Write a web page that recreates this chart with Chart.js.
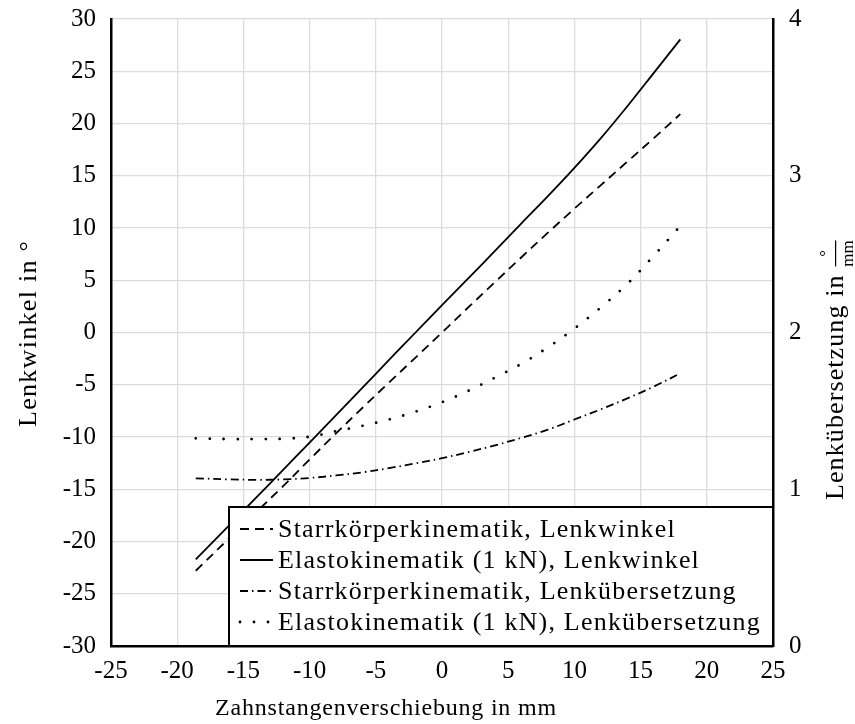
<!DOCTYPE html>
<html>
<head>
<meta charset="utf-8">
<script src="https://cdn.jsdelivr.net/npm/chart.js@4.4.1/dist/chart.umd.min.js"></script>
<style>
  html, body { margin: 0; padding: 0; background: #fff; }
</style>
</head>
<body>
<canvas id="lenkung" width="855" height="724"></canvas>
<script>
// Zahnstangenverschiebung in mm
const verschiebung = [-18.6, -16, -14, -12, -10, -8, -6, -4, -2, 0, 2, 4, 6, 8, 10, 12, 14, 16, 18];
// Lenkwinkel in Grad (linke Achse)
const winkelStarr  = [-22.8, -19.6, -17.15, -14.7, -12.15, -9.65, -7.2, -4.78, -2.4, 0, 2.42, 4.82, 7.2, 9.55, 11.85, 14.1, 16.35, 18.6, 20.9];
const winkelElasto = [-21.7, -18.35, -15.75, -13.15, -10.53, -7.9, -5.27, -2.63, 0.0, 2.62, 5.2, 7.8, 10.45, 13.05, 15.75, 18.6, 21.65, 24.85, 28.05];
// Lenkuebersetzung in Grad/mm (rechte Achse)
const uebStarr  = [1.07, 1.063, 1.06, 1.063, 1.072, 1.088, 1.108, 1.135, 1.165, 1.198, 1.237, 1.28, 1.328, 1.38, 1.445, 1.51, 1.58, 1.655, 1.74];
const uebElasto = [1.325, 1.32, 1.32, 1.322, 1.335, 1.37, 1.405, 1.445, 1.495, 1.555, 1.628, 1.712, 1.80, 1.905, 2.025, 2.16, 2.31, 2.49, 2.68];

const namen = [
  'Starrkörperkinematik, Lenkwinkel',
  'Elastokinematik (1 kN), Lenkwinkel',
  'Starrkörperkinematik, Lenkübersetzung',
  'Elastokinematik (1 kN), Lenkübersetzung'
];
const titelX = 'Zahnstangenverschiebung in mm';
const titelY = 'Lenkwinkel in °';
const titelY2 = 'Lenkübersetzung in';

const schrift = 'Liberation Serif';

function punkte(werte) {
  return verschiebung.map((x, i) => ({ x: x, y: werte[i] }));
}

// Legende im Diagramm unten rechts + Achsentitel
const legendeBox = {
  id: 'legendeBox',
  afterDatasetsDraw(chart) {
    const ctx = chart.ctx, a = chart.chartArea;
    const x0 = a.left + 118, y0 = a.bottom - 139;
    ctx.save();
    ctx.fillStyle = '#fff';
    ctx.fillRect(x0, y0, a.right - x0, a.bottom - y0);
    ctx.lineWidth = 2;
    ctx.strokeStyle = '#000';
    ctx.strokeRect(x0, y0, a.right - x0, a.bottom - y0);
    chart.data.datasets.forEach((ds, i) => {
      const y = y0 + 22 + i * 31;
      ctx.beginPath();
      ctx.setLineDash(ds.borderDash || []);
      ctx.lineCap = ds.borderCapStyle || 'butt';
      ctx.lineWidth = ds.borderWidth;
      ctx.moveTo(x0 + 11, y);
      ctx.lineTo(x0 + 44, y);
      ctx.stroke();
      ctx.setLineDash([]);
      ctx.fillStyle = '#000';
      ctx.font = '26px "' + schrift + '"';
      ctx.textBaseline = 'middle';
      ctx.letterSpacing = '1.2px';
      ctx.fillText(ds.label, x0 + 49, y + 1);
      ctx.letterSpacing = '0px';
    });
    ctx.restore();
  },
  afterDraw(chart) {
    const ctx = chart.ctx;
    ctx.save();
    ctx.fillStyle = '#000';
    ctx.textBaseline = 'alphabetic';

    // x-Titel
    ctx.font = '24px "' + schrift + '"';
    ctx.letterSpacing = '0.8px';
    ctx.textAlign = 'center';
    ctx.fillText(titelX, 386, 715);

    // linker Titel
    ctx.save();
    ctx.translate(36, 427);
    ctx.rotate(-Math.PI / 2);
    ctx.textAlign = 'left';
    ctx.font = '26px "' + schrift + '"';
    ctx.letterSpacing = '1.3px';
    ctx.fillText(titelY, 0, 0);
    ctx.restore();

    // rechter Titel mit Bruch
    ctx.translate(843, 500);
    ctx.rotate(-Math.PI / 2);
    ctx.textAlign = 'left';
    ctx.font = '26px "' + schrift + '"';
    ctx.letterSpacing = '1.1px';
    ctx.fillText(titelY2, 0, 0);
    const w = ctx.measureText(titelY2).width + 8;
    ctx.letterSpacing = '0px';
    ctx.font = '17px "' + schrift + '"';
    ctx.textAlign = 'center';
    ctx.fillText('°', w + 13, -12);
    ctx.fillText('mm', w + 13, 10);
    ctx.fillRect(w, -8, 26, 1.2);
    ctx.restore();
  }
};

new Chart(document.getElementById('lenkung').getContext('2d'), {
  type: 'line',
  data: {
    datasets: [
      { label: namen[0], data: punkte(winkelStarr), yAxisID: 'y',
        borderColor: '#000', borderWidth: 1.8, borderDash: [9, 6] },
      { label: namen[1], data: punkte(winkelElasto), yAxisID: 'y',
        borderColor: '#000', borderWidth: 1.8 },
      { label: namen[2], data: punkte(uebStarr), yAxisID: 'y2',
        borderColor: '#000', borderWidth: 1.8, borderDash: [8, 4, 1.5, 4] },
      { label: namen[3], data: punkte(uebElasto), yAxisID: 'y2',
        borderColor: '#000', borderWidth: 2.8, borderDash: [0, 14], borderCapStyle: 'round' }
    ]
  },
  options: {
    responsive: false,
    animation: false,
    layout: { padding: { top: 19, left: 0, right: 0, bottom: 0 } },
    elements: { point: { radius: 0 }, line: { tension: 0.35, fill: false } },
    plugins: { legend: { display: false }, tooltip: { enabled: false } },
    scales: {
      x: {
        type: 'linear', min: -25, max: 25,
        ticks: { stepSize: 5, color: '#000', padding: 10, font: { family: schrift, size: 25 } },
        grid: { color: '#dcdcdc', lineWidth: 1.3, drawTicks: false },
        border: { display: true, color: '#000', width: 2.5 },
        afterFit(s) { s.height = 78; s.paddingLeft = 0; s.paddingRight = 0; }
      },
      y: {
        type: 'linear', position: 'left', min: -30, max: 30,
        ticks: { stepSize: 5, color: '#000', padding: 15, font: { family: schrift, size: 25 } },
        grid: { color: '#dcdcdc', lineWidth: 1.3, drawTicks: false },
        border: { display: true, color: '#000', width: 2.5 },
        afterFit(s) { s.width = 111; s.paddingTop = 0; s.paddingBottom = 0; }
      },
      y2: {
        type: 'linear', position: 'right', min: 0, max: 4,
        ticks: { stepSize: 1, color: '#000', padding: 16, font: { family: schrift, size: 25 } },
        grid: { display: false, drawTicks: false },
        border: { display: true, color: '#000', width: 2.5 },
        afterFit(s) { s.width = 82; s.paddingTop = 0; s.paddingBottom = 0; }
      }
    }
  },
  plugins: [legendeBox]
});
</script>
</body>
</html>
